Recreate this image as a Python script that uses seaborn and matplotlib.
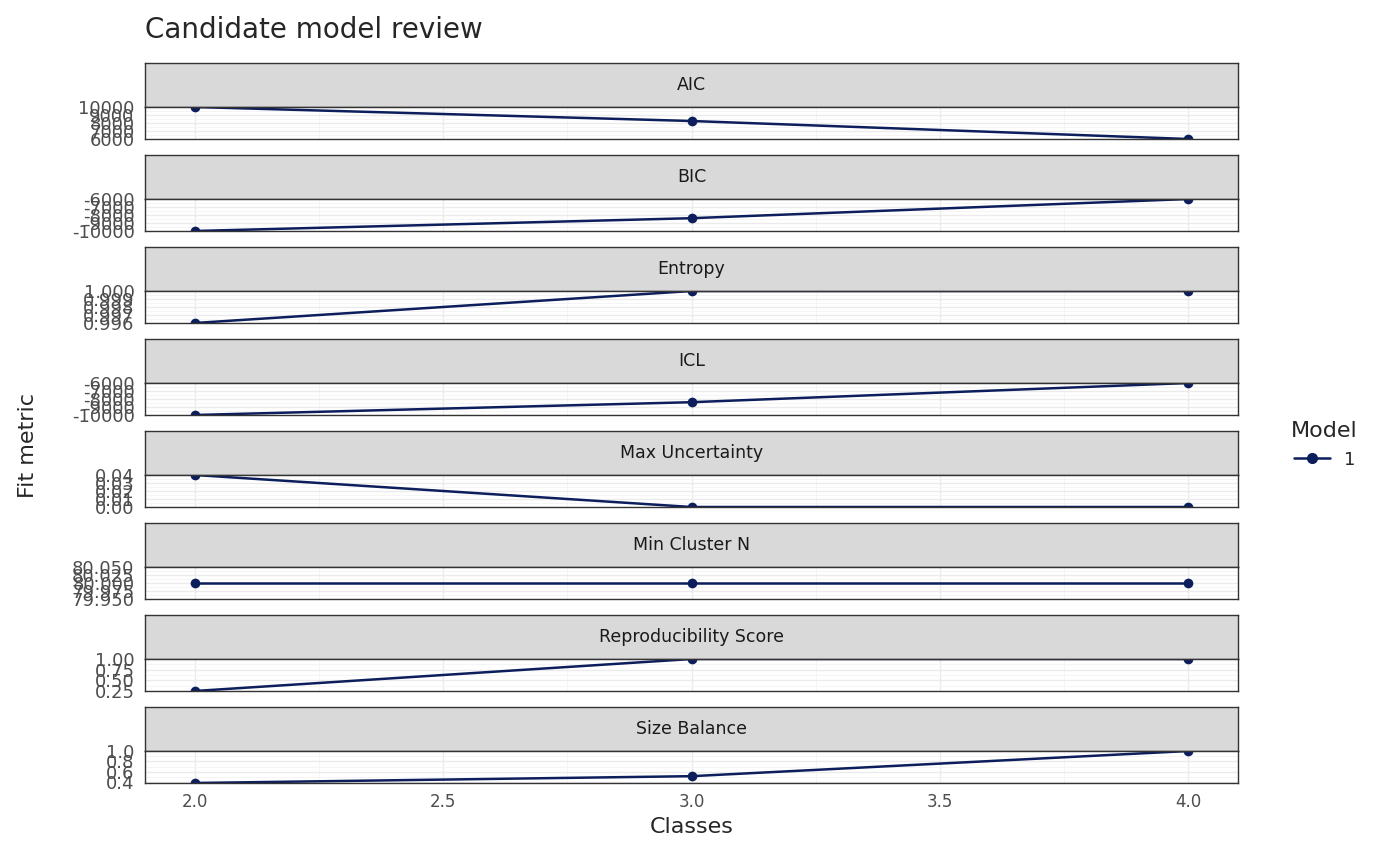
import numpy as np
import pandas as pd
import matplotlib
matplotlib.use("Agg")
import matplotlib.pyplot as plt
import seaborn as sns
from matplotlib.lines import Line2D

# ─── Data ────────────────────────────────────────────────────────────
classes = [2, 3, 4]
metrics = ["AIC", "BIC", "Entropy", "ICL", "Max Uncertainty",
           "Min Cluster N", "Reproducibility Score", "Size Balance"]
aic = [10000, 8250, 6000]
bic = [-10000, -8400, -6000]
entropy = [0.996, 1.000, 1.000]
icl = [-10000, -8400, -6000]
max_unc = [0.04, 0.0, 0.0]
min_n = [80, 80, 80]
repro = [0.25, 1.0, 1.0]
size_bal = [0.39, 0.52, 1.0]
yticks = [
    [6000, 7000, 8000, 9000, 10000],
    [-10000, -9000, -8000, -7000, -6000],
    [0.996, 0.997, 0.998, 0.999, 1.000],
    [-10000, -9000, -8000, -7000, -6000],
    [0.00, 0.01, 0.02, 0.03, 0.04],
    [79.950, 79.975, 80.000, 80.025, 80.050],
    [0.25, 0.50, 0.75, 1.00],
    [0.4, 0.6, 0.8, 1.0],
]
ytick_fmt = ["{:.0f}", "{:.0f}", "{:.3f}", "{:.0f}", "{:.2f}", "{:.3f}", "{:.2f}", "{:.1f}"]
series = [aic, bic, entropy, icl, max_unc, min_n, repro, size_bal]

df = pd.DataFrame([
    {"Classes": c, "metric": m, "value": v, "Model": "1"}
    for m, vals in zip(metrics, series) for c, v in zip(classes, vals)
])

sns.set_style("white")
plt.rcParams["font.family"] = ["DejaVu Sans"]
W, H = 1400, 866
fig = plt.figure(figsize=(W / 100, H / 100), dpi=100)
color = "#0c1f5c"

left, right = 145, 1238
strip_h, panel_h, period = 44, 32, 92
top0 = 63

for i, (m, ticks, fmt) in enumerate(zip(metrics, yticks, ytick_fmt)):
    st = top0 + i * period
    sax = fig.add_axes([left / W, 1 - (st + strip_h) / H, (right - left) / W, strip_h / H])
    sax.set_facecolor("#d9d9d9")
    sax.set_xticks([]); sax.set_yticks([])
    for s in sax.spines.values():
        s.set_color("#333333"); s.set_linewidth(1)
    sax.text(0.5, 0.5, m, ha="center", va="center", fontsize=12.5, color="#1a1a1a",
             transform=sax.transAxes)

    ax = fig.add_axes([left / W, 1 - (st + strip_h + panel_h) / H, (right - left) / W, panel_h / H])
    sub = df[df["metric"] == m]
    sns.lineplot(data=sub, x="Classes", y="value", color=color, marker="o",
                 markersize=7, markeredgewidth=0, linewidth=1.8, ax=ax, legend=False)
    vals = sub["value"].to_numpy()
    lo, hi = vals.min(), vals.max()
    if hi == lo:
        lo, hi = lo - 0.05, hi + 0.05
    ax.set_ylim(lo, hi)
    ax.set_xlim(1.9, 4.1)
    ax.set_yticks(ticks)
    ax.set_yticklabels([fmt.format(t) for t in ticks])
    minor = [(a + b) / 2 for a, b in zip(ticks[:-1], ticks[1:])]
    ax.set_yticks(minor, minor=True)
    ax.set_xticks([2.0, 2.5, 3.0, 3.5, 4.0])
    ax.set_xticks([2.25, 2.75, 3.25, 3.75], minor=True)
    ax.grid(True, which="major", color="#ebebeb", linewidth=1)
    ax.grid(True, which="minor", color="#f4f4f4", linewidth=0.6)
    ax.set_axisbelow(True)
    ax.tick_params(axis="y", labelsize=13, colors="#4d4d4d", length=4, width=1.2, which="major")
    ax.tick_params(axis="y", which="minor", length=0)
    ax.tick_params(axis="x", which="minor", length=0)
    ax.set_xlabel(""); ax.set_ylabel("")
    for s in ax.spines.values():
        s.set_color("#333333"); s.set_linewidth(1)
    if i == len(metrics) - 1:
        ax.set_xticklabels(["2.0", "2.5", "3.0", "3.5", "4.0"])
        ax.tick_params(axis="x", labelsize=12, colors="#4d4d4d", length=4, width=1.2)
        ax.set_xlabel("Classes", fontsize=16)
    else:
        ax.set_xticklabels([])
        ax.tick_params(axis="x", length=0)

fig.text(145 / W, 1 - 30 / H, "Candidate model review", fontsize=20, va="center", ha="left")
fig.text(28 / W, 1 - 445 / H, "Fit metric", fontsize=16, rotation=90, va="center", ha="center")

handle = Line2D([0], [0], color=color, marker="o", markersize=7, linewidth=1.8)
fig.legend([handle], ["1"], title="Model", loc="center left",
           bbox_to_anchor=(1275 / W, 1 - 445 / H), frameon=False,
           fontsize=13, title_fontsize=16, handlelength=2)

fig.savefig("out.png", dpi=100)
